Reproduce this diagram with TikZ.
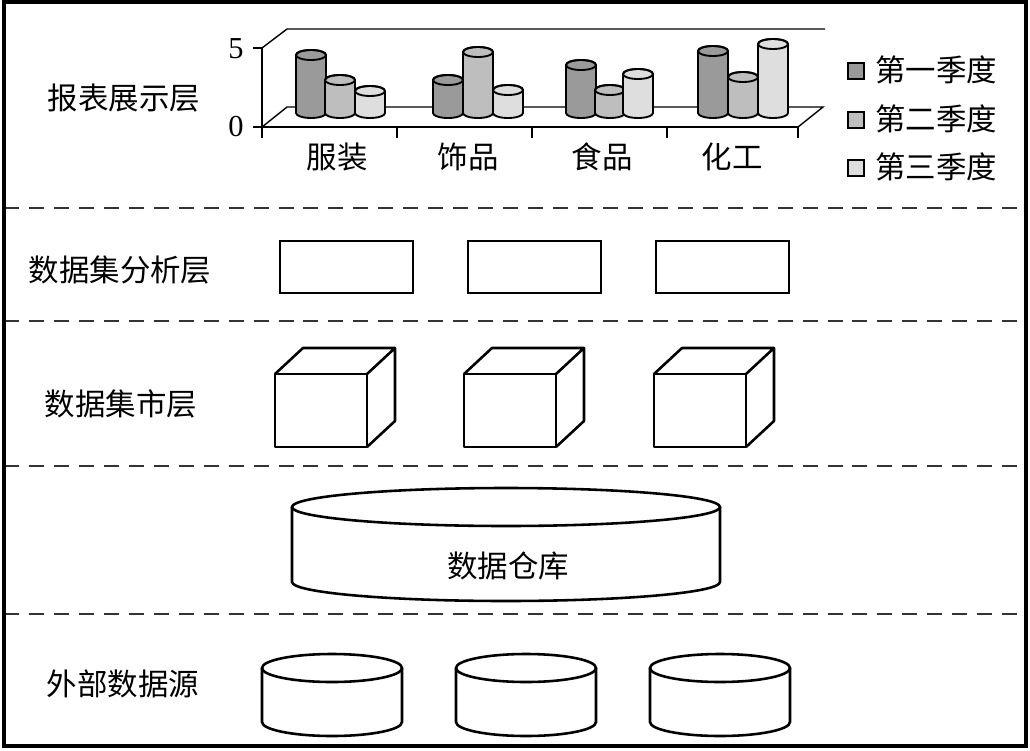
\documentclass[tikz,border=0pt]{standalone}
\usepackage{fontspec}
\setmainfont{Liberation Serif}
\newfontfamily\cjk{Noto Sans CJK SC}
\usepackage{tikz}
\definecolor{barone}{HTML}{9A9A9A}
\definecolor{bartwo}{HTML}{BEBEBE}
\definecolor{barthree}{HTML}{DEDEDE}
\definecolor{dashgray}{HTML}{333333}
\newcommand{\zh}{\cjk\fontsize{26}{30}\selectfont}
% one bar of the chart: left x, top y, colour
\newcommand{\chartbar}[3]{%
  \filldraw[fill=#3, line width=1.6pt]
    (#1,113) -- (#1,#2+5) arc (180:360:15 and 5) -- (#1+30,113) arc (0:180:15 and 5) -- cycle;
  \draw[line width=1.6pt] (#1+15,#2+5) ellipse (15 and 5);
}
% cube: left x, top y of the front face
\newcommand{\cubebox}[2]{%
  \filldraw[fill=white, line width=2.2pt, line join=round]
    (#1,#2) rectangle (#1+92,#2+73);
  \draw[line width=2.2pt, line join=round]
    (#1,#2) -- (#1+28,#2-26) -- (#1+120,#2-26) -- (#1+92,#2)
    (#1+120,#2-26) -- (#1+120,#2+47) -- (#1+92,#2+73);
}
% drum: centre x, half width, top y, bottom y, half height of the rim
\newcommand{\drum}[5]{%
  \filldraw[fill=white, line width=2.2pt]
    (#1-#2,#3) -- (#1-#2,#4) arc (180:0:#2 and #5) -- (#1+#2,#3);
  \filldraw[fill=white, line width=2.2pt] (#1,#3) ellipse (#2 and #5);
}

\begin{document}
\begin{tikzpicture}[x=0.03cm, y=-0.03cm,
    layerline/.style={dashgray, line width=1.8pt, dash pattern=on 12.8pt off 8.5pt},
    axisline/.style={line width=1.2pt},
    zhlabel/.style={font=\zh, inner sep=0pt},
    numlabel/.style={font=\fontsize{26}{30}\selectfont, inner sep=0pt}]
  \useasboundingbox (0,0) rectangle (1030,750);
  % Layer dividers
  \draw[layerline] (4,208) -- (1026,208);
  \draw[layerline] (4,321) -- (1026,321);
  \draw[layerline] (4,466) -- (1026,466);
  \draw[layerline] (4,614) -- (1026,614);
  % Outer border
  \draw[line width=2.6pt] (4,2) rectangle (1026,746);
  % Layer names
  \node[zhlabel] (reportlbl) at (124,98) {报表展示层};
  \node[zhlabel] (analysislbl) at (120,270) {数据集分析层};
  \node[zhlabel] (martlbl) at (121,404) {数据集市层};
  \node[zhlabel] (sourcelbl) at (123,684) {外部数据源};

  % Chart frame
  \draw[axisline] (262,48) -- (287,29) -- (825,29);
  \draw[axisline] (262,127) -- (287,107) -- (823,107) -- (798,127);
  \draw[axisline] (262,48) -- (262,138);
  \draw[axisline] (262,127) -- (798,127);
  \draw[axisline] (253,48) -- (262,48);
  \draw[axisline] (253,127) -- (262,127);
  \draw[axisline] (397,127) -- (397,138);
  \draw[axisline] (532,127) -- (532,138);
  \draw[axisline] (667,127) -- (667,138);
  \draw[axisline] (798,127) -- (798,138);
  \node[numlabel] (tickfive) at (236,49) {5};
  \node[numlabel] (tickzero) at (236,127) {0};
  % Bars
  \chartbar{296}{50}{barone}
  \chartbar{325}{75}{bartwo}
  \chartbar{355}{86}{barthree}
  \chartbar{433}{75}{barone}
  \chartbar{463}{47}{bartwo}
  \chartbar{493}{85}{barthree}
  \chartbar{566}{60}{barone}
  \chartbar{595}{85}{bartwo}
  \chartbar{623}{69}{barthree}
  \chartbar{698}{46}{barone}
  \chartbar{728}{72}{bartwo}
  \chartbar{758}{39}{barthree}
  % Categories
  \node[zhlabel] (catclothes) at (337,157) {服装};
  \node[zhlabel] (catjewel) at (468,157) {饰品};
  \node[zhlabel] (catfood) at (602,157) {食品};
  \node[zhlabel] (catchem) at (732,157) {化工};
  % Legend
  \filldraw[fill=barone, line width=1.8pt] (848,63) rectangle (864,79);
  \filldraw[fill=bartwo, line width=1.8pt] (848,112) rectangle (864,128);
  \filldraw[fill=barthree, line width=1.8pt] (848,160) rectangle (864,176);
  \node[zhlabel, anchor=west] (legone) at (875,70) {第一季度};
  \node[zhlabel, anchor=west] (legtwo) at (875,119) {第二季度};
  \node[zhlabel, anchor=west] (legthree) at (875,167) {第三季度};

  % Analysis boxes
  \draw[line width=2.2pt] (280,241) rectangle (413,293);
  \draw[line width=2.2pt] (468,241) rectangle (601,293);
  \draw[line width=2.2pt] (656,241) rectangle (789,293);
  % Data marts
  \cubebox{275}{374}
  \cubebox{464}{374}
  \cubebox{654}{374}
  % Warehouse
  \drum{506}{214}{507}{582}{19}
  \node[zhlabel] (warehouse) at (508,566) {数据仓库};
  % Outside sources
  \drum{332}{70}{668}{722}{14}
  \drum{526}{70}{668}{722}{14}
  \drum{720}{70}{668}{722}{14}
\end{tikzpicture}
\end{document}
